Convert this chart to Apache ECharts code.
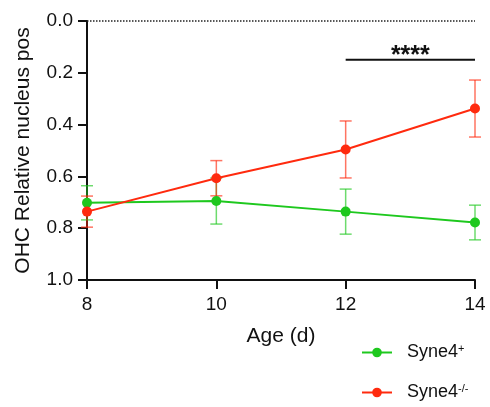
<!DOCTYPE html>
<html>
<head>
<meta charset="utf-8">
<script src="https://cdn.jsdelivr.net/npm/echarts@6/dist/echarts.min.js"></script>
<style>
  html, body { margin: 0; padding: 0; background: #fff; }
  #chart { width: 490px; height: 407px; }
</style>
</head>
<body>
<div id="chart"></div>
<script>
// ---- Data ----
const ages = [8, 10, 12, 14]
const wtMean = [0.702, 0.695, 0.736, 0.778]
const wtErr = [0.066, 0.089, 0.087, 0.067]
const koMean = [0.736, 0.607, 0.496, 0.338]
const koErr = [0.06, 0.068, 0.11, 0.11]
const yTicks = ['0.0', '0.2', '0.4', '0.6', '0.8', '1.0']
const sigRange = [12, 14]
const sigLevel = 0.15
const sigText = '****'

const GREEN = '#1ec81e'
const RED = '#ff2a0e'
const FONT = 'Liberation Sans, Arial, sans-serif'

function points(means) {
  return ages.map((a, i) => [a, means[i]])
}

function errData(means, errs) {
  return ages.map((a, i) => [a, means[i] - errs[i], means[i] + errs[i]])
}

function errSeries(name, means, errs, color) {
  return {
    name: name,
    type: 'custom',
    data: errData(means, errs),
    z: 1,
    renderItem(params, api) {
      const top = api.coord([api.value(0), api.value(1)])
      const bot = api.coord([api.value(0), api.value(2)])
      const hw = 6
      const style = { stroke: color, lineWidth: 1.5, opacity: 0.65 }
      return {
        type: 'group',
        children: [
          { type: 'line', shape: { x1: top[0], y1: top[1], x2: bot[0], y2: bot[1] }, style },
          { type: 'line', shape: { x1: top[0] - hw, y1: top[1], x2: top[0] + hw, y2: top[1] }, style },
          { type: 'line', shape: { x1: bot[0] - hw, y1: bot[1], x2: bot[0] + hw, y2: bot[1] }, style },
        ],
      }
    },
  }
}

// one legend box per entry so they stack without wrapping
function legendEntry(name, top) {
  return {
    left: 361,
    top: top,
    padding: 0,
    itemWidth: 30,
    itemHeight: 12,
    data: [name],
    formatter(n) {
      return n === 'wt' ? '{n|Syne4}{s|+}' : '{n|Syne4}{s|-/-}'
    },
    textStyle: {
      color: '#111',
      rich: {
        n: { fontSize: 18, color: '#111', fontFamily: FONT, padding: [0, 0, 0, 10] },
        s: { fontSize: 11, color: '#111', fontFamily: FONT, verticalAlign: 'top', padding: [0, 0, 8, 0] },
      },
    },
  }
}

const chart = echarts.init(document.getElementById('chart'), null, { renderer: 'canvas' })

chart.setOption({
  animation: false,
  textStyle: { fontFamily: FONT },
  grid: { left: 87, right: 15, top: 21, bottom: 127 },
  legend: [legendEntry('wt', 343), legendEntry('ko', 383)],
  xAxis: {
    type: 'value',
    min: 8,
    max: 14,
    interval: 2,
    name: 'Age (d)',
    nameLocation: 'middle',
    nameGap: 46,
    nameTextStyle: { fontSize: 21, color: '#111', fontFamily: FONT },
    axisLine: { onZero: false, lineStyle: { color: '#111', width: 2 } },
    axisTick: { length: 9, lineStyle: { color: '#111', width: 2 } },
    axisLabel: { fontSize: 19, color: '#111', margin: 15, fontFamily: FONT },
    splitLine: { show: false },
  },
  yAxis: {
    type: 'value',
    inverse: true,
    min: 0,
    max: 1,
    interval: 0.2,
    name: 'OHC Relative nucleus pos',
    nameLocation: 'middle',
    nameGap: 53,
    nameTextStyle: { fontSize: 21, color: '#111', fontFamily: FONT },
    axisLine: { onZero: false, lineStyle: { color: '#111', width: 2 } },
    axisTick: { length: 9, lineStyle: { color: '#111', width: 2 } },
    axisLabel: {
      fontSize: 19,
      color: '#111',
      margin: 14,
      fontFamily: FONT,
      formatter(v) {
        return yTicks[Math.round(v / 0.2)]
      },
    },
    splitLine: { show: false },
  },
  series: [
    errSeries('wtErr', wtMean, wtErr, GREEN),
    errSeries('koErr', koMean, koErr, RED),
    {
      name: 'wt',
      type: 'line',
      data: points(wtMean),
      color: GREEN,
      symbol: 'circle',
      symbolSize: 10,
      lineStyle: { width: 2, color: GREEN },
      itemStyle: { color: GREEN },
      z: 3,
      markLine: {
        silent: true,
        symbol: 'none',
        label: { show: false },
        lineStyle: { type: 'dotted', color: '#222', width: 1.5 },
        data: [{ yAxis: 0 }],
      },
    },
    {
      name: 'ko',
      type: 'line',
      data: points(koMean),
      color: RED,
      symbol: 'circle',
      symbolSize: 10,
      lineStyle: { width: 2, color: RED },
      itemStyle: { color: RED },
      z: 4,
    },
    {
      name: 'sig',
      type: 'custom',
      data: [[sigRange[0], sigRange[1], sigLevel]],
      renderItem(params, api) {
        const a = api.coord([api.value(0), api.value(2)])
        const b = api.coord([api.value(1), api.value(2)])
        return {
          type: 'group',
          children: [
            { type: 'line', shape: { x1: a[0], y1: a[1], x2: b[0], y2: b[1] }, style: { stroke: '#111', lineWidth: 2 } },
            {
              type: 'text',
              x: (a[0] + b[0]) / 2,
              y: a[1] - 4,
              style: { text: sigText, fill: '#111', font: 'bold 25px ' + FONT, align: 'center', verticalAlign: 'middle' },
            },
          ],
        }
      },
    },
  ],
})
</script>
</body>
</html>
